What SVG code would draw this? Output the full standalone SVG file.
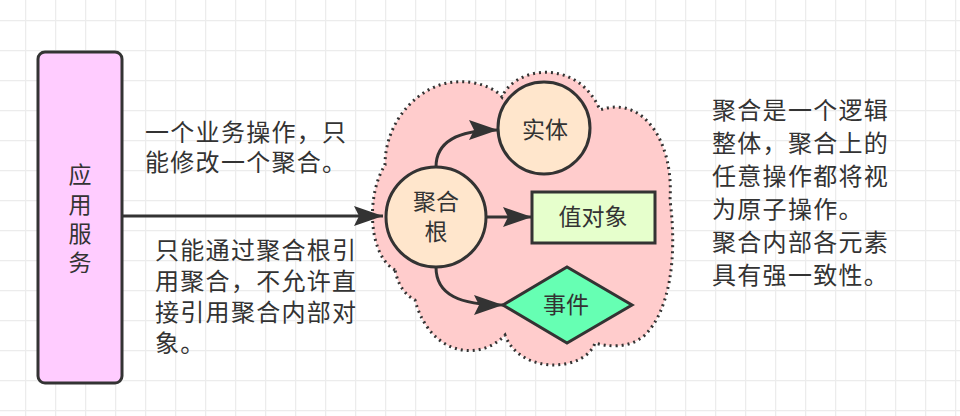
<svg xmlns="http://www.w3.org/2000/svg" width="960" height="416" viewBox="0 0 960 416">
<style>
text{font-family:"Noto Sans CJK SC","Noto Sans",sans-serif;fill:#333;}
.lbl{font-size:24px;letter-spacing:1.3px;}
.nt{font-size:23px;text-anchor:middle;}
.shape{stroke:#333;stroke-width:3;}
.edge{fill:none;stroke:#333;stroke-width:3;}
</style>
<defs>
<pattern id="grid" width="30" height="30" patternUnits="userSpaceOnUse" x="25" y="20">
<path d="M0,0.5 H30 M0.5,0 V30" stroke="#ececec" stroke-width="1.5" fill="none"/>
</pattern>
<marker id="arr" markerUnits="userSpaceOnUse" markerWidth="32" markerHeight="22" refX="29" refY="11" orient="auto">
<path d="M0,1 L29,11 L0,21 L5,11 Z" fill="#333"/>
</marker>
</defs>
<rect width="960" height="416" fill="#fff"/>
<rect width="960" height="416" fill="url(#grid)"/>

<g id="cloud">
<path d="M395,270 C368,255 366,195 385,165 C385,120 420,84 455,82 C475,80 495,88 502,97 C515,66 578,58 600,110 C642,95 674,140 670,200 C678,262 668,312 645,335 C628,350 606,346 595,343 C585,372 520,375 505,335 C480,362 430,356 415,300 C405,295 398,285 395,270 Z" fill="#ffcccc" stroke="#333" stroke-width="3" stroke-dasharray="2 4"/>
</g>

<g id="app-service">
<rect class="shape" x="38" y="52" width="84" height="331" rx="7" fill="#ffccff"/>
<text class="nt" x="80" y="183"><tspan x="80">应</tspan><tspan x="80" dy="30">用</tspan><tspan x="80" dy="29">服</tspan><tspan x="80" dy="29">务</tspan></text>
</g>

<g id="connectors">
<path class="edge" d="M122,216 H383" marker-end="url(#arr)"/>
<path class="edge" d="M436,167 C436,140 460,130 498,130" marker-end="url(#arr)"/>
<path class="edge" d="M487,217 H532" marker-end="url(#arr)"/>
<path class="edge" d="M436,267 C436,295 460,305 503,305" marker-end="url(#arr)"/>
</g>

<g id="root">
<circle class="shape" cx="436" cy="217" r="50" fill="#ffe6cc"/>
<text class="nt" x="436" y="210"><tspan x="436">聚合</tspan><tspan x="436" dy="30">根</tspan></text>
</g>

<g id="entity">
<circle class="shape" cx="544" cy="128" r="46" fill="#ffe6cc"/>
<text class="nt" x="545" y="138">实体</text>
</g>

<g id="value-object">
<rect class="shape" x="532" y="192" width="123" height="51" fill="#e6ffcc"/>
<text class="nt" x="593" y="225">值对象</text>
</g>

<g id="event">
<path class="shape" d="M503,305 L567,267 L632,305 L567,343 Z" fill="#66ffb3"/>
<text class="nt" x="566" y="313">事件</text>
</g>

<g id="labels">
<text class="lbl" x="145" y="141"><tspan x="145">一个业务操作，只</tspan><tspan x="145" dy="30">能修改一个聚合。</tspan></text>
<text class="lbl" x="155" y="259"><tspan x="155">只能通过聚合根引</tspan><tspan x="155" dy="31">用聚合，不允许直</tspan><tspan x="155" dy="31">接引用聚合内部对</tspan><tspan x="155" dy="31">象。</tspan></text>
<text class="lbl" x="712" y="119"><tspan x="712">聚合是一个逻辑</tspan><tspan x="712" dy="33">整体，聚合上的</tspan><tspan x="712" dy="33">任意操作都将视</tspan><tspan x="712" dy="33">为原子操作。</tspan><tspan x="712" dy="33">聚合内部各元素</tspan><tspan x="712" dy="33">具有强一致性。</tspan></text>
</g>
</svg>
